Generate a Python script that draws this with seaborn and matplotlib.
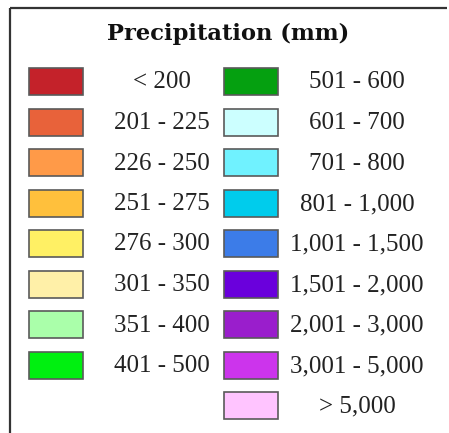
import matplotlib.pyplot as plt
import seaborn as sns

title = "Precipitation (mm)"
left_labels = ["< 200", "201 - 225", "226 - 250", "251 - 275", "276 - 300",
               "301 - 350", "351 - 400", "401 - 500"]
left_colors = ["#c4222a", "#e8623a", "#ff9a48", "#ffc03c", "#fff064",
               "#fff0a8", "#aaffaa", "#00f010"]
right_labels = ["501 - 600", "601 - 700", "701 - 800", "801 - 1,000",
                "1,001 - 1,500", "1,501 - 2,000", "2,001 - 3,000",
                "3,001 - 5,000", "> 5,000"]
right_colors = ["#05a010", "#ccffff", "#70f2ff", "#00ccec", "#3c7ce8",
                "#6a00dc", "#9a1ecc", "#cc34ec", "#ffc4ff"]

sns.set_theme(style="white")
plt.rcParams["font.family"] = ["Liberation Serif", "DejaVu Serif"]

fig = plt.figure(figsize=(4.49, 4.33), dpi=100)
ax = fig.add_axes([0, 0, 1, 1])
ax.set_xlim(0, 449)
ax.set_ylim(433, 0)
ax.axis("off")

# frame: only top and left edges are visible in the crop
ax.plot([10, 10], [8, 433], color="#333333", lw=1.6, solid_capstyle="butt")
ax.plot([10, 447], [8, 8], color="#333333", lw=1.6, solid_capstyle="butt")

ax.text(228, 34, title, ha="center", va="center", fontsize=16.3,
        fontweight="bold", family="DejaVu Serif", color="#111111")

row_top, row_step, sw_h, sw_w = 68, 40.5, 27, 54


def draw_column(labels, colors, x0, xtext):
    tops = [row_top + i * row_step for i in range(len(labels))]
    ax.bar([x0] * len(labels), [sw_h] * len(labels), width=sw_w, bottom=tops,
           align="edge", color=colors, edgecolor="#5a5a5a", linewidth=1.2)
    for t, lab in zip(tops, labels):
        ax.text(xtext, t + sw_h / 2 + 1, lab, ha="center", va="center",
                fontsize=18, color="#222222")


draw_column(left_labels, left_colors, 29, 162)
draw_column(right_labels, right_colors, 224, 357)

fig.savefig("out.png", dpi=100)
